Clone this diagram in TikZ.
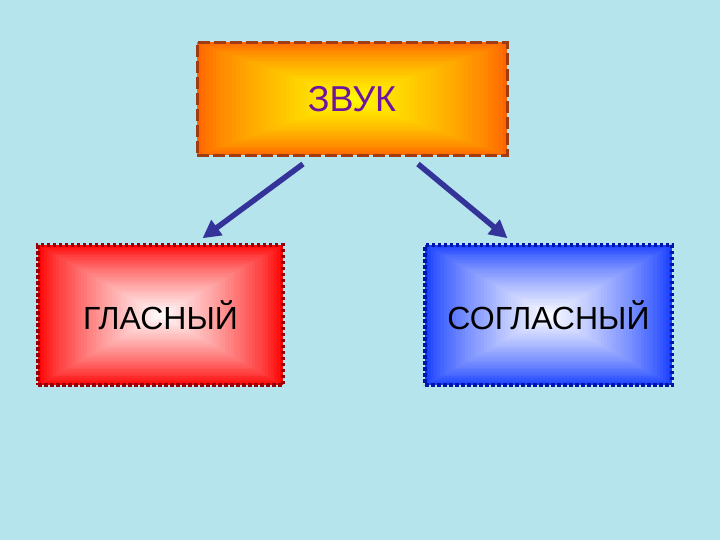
\documentclass[tikz,border=0pt]{standalone}
\usepackage{fontspec}
\setmainfont{Liberation Sans}
\usetikzlibrary{arrows.meta,calc}

\definecolor{bgblue}{RGB}{182,228,236}
\definecolor{zvukouter}{RGB}{255,102,0}
\definecolor{zvukinner}{RGB}{255,255,0}
\definecolor{zvukline}{RGB}{160,60,20}
\definecolor{zvuktext}{RGB}{110,20,160}
\definecolor{glasline}{RGB}{150,0,10}
\definecolor{soglouter}{RGB}{20,60,255}
\definecolor{sogline}{RGB}{0,20,170}
\definecolor{arrowblue}{RGB}{51,51,153}

\tikzset{
  boxfill/.style 2 args={path picture={
    \foreach \i in {0,...,40}{
      \pgfmathtruncatemacro\pct{100*(\i/40)^0.75}
      \pgfmathsetmacro\s{1-\i/40}
      \fill[color=#2!\pct!#1]
        ($(path picture bounding box.center)!\s!(path picture bounding box.south west)$)
        rectangle
        ($(path picture bounding box.center)!\s!(path picture bounding box.north east)$);
    }}},
  wordbox/.style={rectangle, draw, inner sep=0pt, line width=3pt},
  dotline/.style={line width=3.5pt, dash pattern=on 3.5pt off 2.5pt},
  link/.style={line width=5.5pt, color=arrowblue,
    -{Triangle[length=18pt,width=18pt]}}
}

\begin{document}
\begin{tikzpicture}[x=1pt,y=-1pt]
  \fill[bgblue] (0,0) rectangle (720,540);
  \useasboundingbox (0,0) rectangle (720,540);

  % top box
  \node[wordbox, boxfill={zvukouter}{zvukinner}, draw=zvukline,
    dash pattern=on 12pt off 4pt,
    minimum width=310pt, minimum height=113pt,
    text=zvuktext, font=\fontsize{36}{42}\selectfont] (zvuk) at (352,99) {ЗВУК};

  % lower boxes
  \node[wordbox, dotline, boxfill={red}{white}, draw=glasline,
    minimum width=245pt, minimum height=140pt,
    font=\fontsize{32}{38}\selectfont] (glas) at (160.5,315) {ГЛАСНЫЙ};
  \node[wordbox, dotline, boxfill={soglouter}{white}, draw=sogline,
    minimum width=247pt, minimum height=140pt,
    font=\fontsize{32}{38}\selectfont] (sogl) at (548.5,315) {СОГЛАСНЫЙ};

  % arrows
  \draw[link] ([xshift=-49pt,yshift=-7pt]zvuk.south) -- ([xshift=42pt,yshift=5pt]glas.north);
  \draw[link] ([xshift=66pt,yshift=-7pt]zvuk.south) -- ([xshift=-41pt,yshift=5pt]sogl.north);
\end{tikzpicture}
\end{document}
